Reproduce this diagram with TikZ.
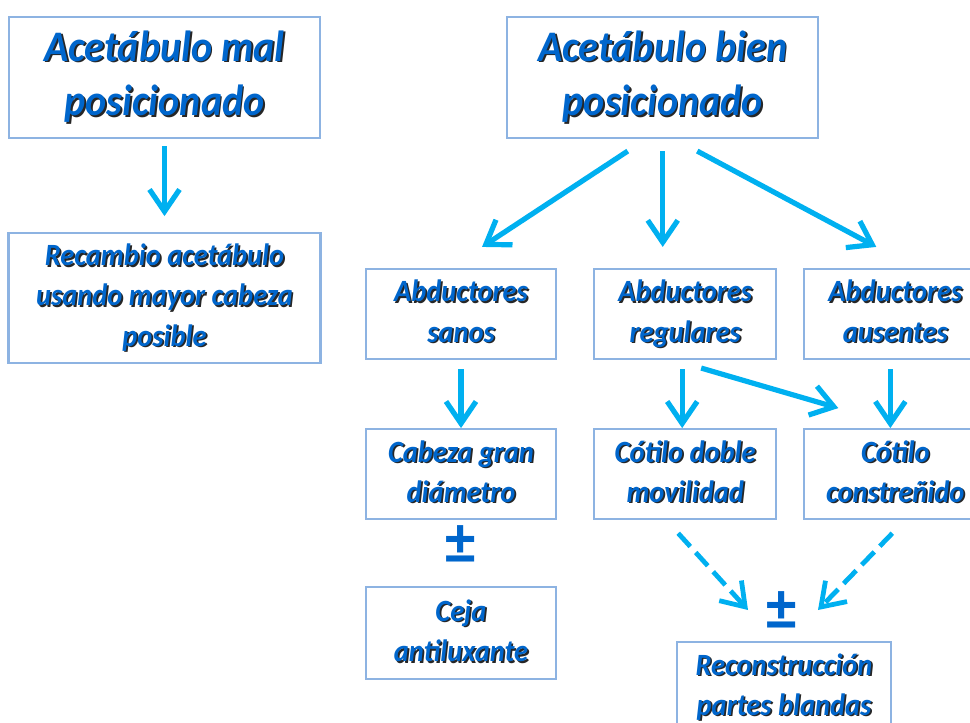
\documentclass[tikz,border=0pt]{standalone}
\usepackage{fontspec}
\setmainfont{Carlito}[FakeStretch=0.92]
\usetikzlibrary{arrows.meta, positioning}

\definecolor{boxline}{RGB}{141,179,226}
\definecolor{txtblue}{RGB}{0,102,204}
\definecolor{arrowcyan}{RGB}{0,176,240}

% text with a dark drop shadow
\newcommand{\shd}[1]{\makebox[0pt][l]{\raisebox{-1.2pt}{\hspace{1.2pt}\color{black!85}#1}}\strut#1}

\begin{document}
\begin{tikzpicture}[
    x=0.025cm, y=-0.025cm,
    titlebox/.style={rectangle, draw=boxline, line width=1.5pt, minimum width=7.775cm, minimum height=3.025cm, align=center, text=txtblue, font=\bfseries\itshape\fontsize{31}{39}\selectfont},
    subbox/.style={rectangle, draw=boxline, line width=1.5pt, minimum width=4.75cm, minimum height=2.25cm, align=center, text=txtblue, font=\bfseries\itshape\fontsize{22}{28.5}\selectfont},
    pm/.style={text=txtblue, font=\bfseries\fontsize{47}{47}\selectfont},
    arrow/.style={draw=arrowcyan, line width=3.7pt, -{Straight Barb[length=0.55cm, width=0.75cm]}},
    dasharrow/.style={arrow, line width=3.4pt, dash pattern=on 0.45cm off 0.2cm}
]
\useasboundingbox (0,0) rectangle (970,722);

\node[titlebox] (mal) at (164.5,77.5) {\shd{Acetábulo mal}\\\shd{posicionado}};
\node[titlebox, right=4.625cm of mal] (bien) {\shd{Acetábulo bien}\\\shd{posicionado}};
\node[subbox, minimum width=7.8cm, minimum height=3.2cm, below=2.325cm of mal] (recambio) {\shd{Recambio acetábulo}\\\shd{usando mayor cabeza}\\\shd{posible}};

\node[subbox] (sanos) at (461,314) {\shd{Abductores}\\\shd{sanos}};
\node[subbox, minimum width=4.55cm, right=0.9cm of sanos] (regulares) {\shd{Abductores}\\\shd{regulares}};
\node[subbox, minimum width=4.55cm, right=0.65cm of regulares] (ausentes) {\shd{Abductores}\\\shd{ausentes}};

\node[subbox, below=1.7cm of sanos] (cabeza) {\shd{Cabeza gran}\\\shd{diámetro}};
\node[subbox, minimum width=4.55cm, below=1.7cm of regulares] (doble) {\shd{Cótilo doble}\\\shd{movilidad}};
\node[subbox, minimum width=4.55cm, below=1.7cm of ausentes] (constr) {\shd{Cótilo}\\\shd{constreñido}};

\node[pm] (pm1) at (461,545) {±};
\node[subbox, minimum height=2.3cm, below=1.65cm of cabeza] (ceja) {\shd{Ceja}\\\shd{antiluxante}};

\node[pm] (pm2) at (782,611) {±};
\node[subbox, minimum width=5.35cm, anchor=north] (recon) at (784,641) {\shd{Reconstrucción}\\\shd{partes blandas}};

\draw[arrow, shorten <=0.175cm, shorten >=0.4cm] (mal.south) -- (mal.south |- recambio.north);

\draw[arrow] ([xshift=-0.875cm, yshift=-0.3cm]bien.south) -- ([xshift=0.525cm, yshift=0.525cm]sanos.north);
\draw[arrow, shorten <=0.3cm, shorten >=0.525cm] (bien.south) -- (bien.south |- regulares.north);
\draw[arrow] ([xshift=0.8625cm, yshift=-0.3cm]bien.south) -- ([xshift=-0.475cm, yshift=0.525cm]ausentes.north);

\draw[arrow, shorten <=0.225cm] (sanos) -- (cabeza);
\draw[arrow, shorten <=0.225cm] ([xshift=-0.075cm]regulares.south) -- ([xshift=-0.075cm]doble.north);
\draw[arrow, shorten <=0.225cm] ([xshift=-0.125cm]ausentes.south) -- ([xshift=-0.125cm]constr.north);
\draw[arrow] ([xshift=0.4cm, yshift=-0.2cm]regulares.south) -- ([xshift=-1.425cm, yshift=0.5cm]constr.north);

\draw[dasharrow] ([xshift=-0.175cm, yshift=-0.325cm]doble.south) -- ([xshift=-0.9cm, yshift=0.775cm]recon.north);
\draw[dasharrow] ([xshift=-0.075cm, yshift=-0.325cm]constr.south) -- ([xshift=0.85cm, yshift=0.775cm]recon.north);

\end{tikzpicture}
\end{document}
